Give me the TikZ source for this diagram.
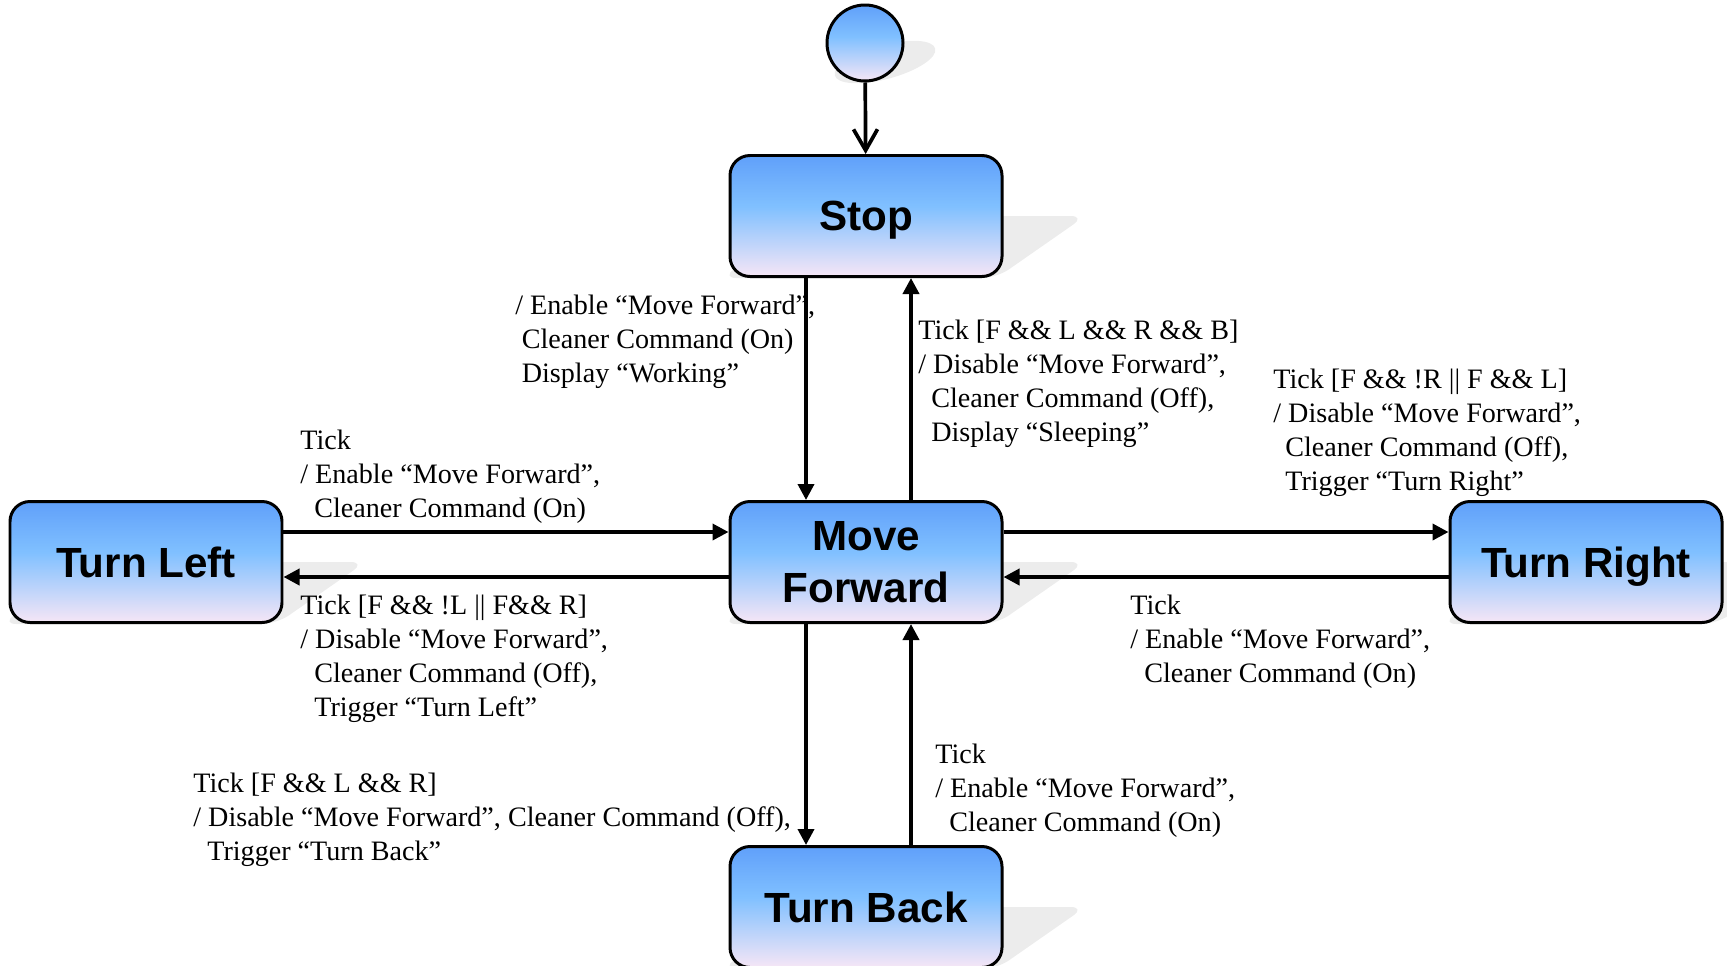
\documentclass[tikz,border=0pt]{standalone}
\usepackage{fontspec}
\setmainfont{Liberation Serif}
\setsansfont{Liberation Sans}
\usetikzlibrary{arrows.meta,calc,backgrounds,positioning}

\definecolor{sttop}{RGB}{96,160,250}
\definecolor{stmid}{RGB}{128,192,255}
\definecolor{stbot}{RGB}{246,230,246}
\definecolor{shadowc}{RGB}{236,236,236}
\pgfdeclareverticalshading{statefill}{100bp}{color(0bp)=(stbot); color(25bp)=(stbot); color(54bp)=(stmid); color(75bp)=(sttop); color(100bp)=(sttop)}

\tikzset{
  state/.style={draw,line width=1.7pt,rounded corners=4mm,shading=statefill,
    minimum width=54.4mm,minimum height=24.2mm,align=center,inner sep=0pt,text depth=0pt,
    font=\sffamily\bfseries\fontsize{24}{29.5}\selectfont},
  startdot/.style={draw,circle,line width=1.7pt,shading=statefill,minimum size=15.2mm,inner sep=0pt},
  lbl/.style={anchor=north west,align=left,inner sep=0pt,font=\fontsize{16}{19.3}\selectfont},
  flow/.style={line width=2.1pt,-{Triangle[length=3.2mm,width=3.2mm]}},
  startflow/.style={line width=2.1pt,-{Straight Barb[length=4.2mm,width=4.8mm,line width=2.1pt]}},
}
% shadow of a state box, thrown to the right
\newcommand{\dropshadow}[1]{%
  \fill[shadowc,rounded corners=3mm] ($(#1.south west)+(-7,0)$) -- ($(#1.south east)+(-7,0)$)
    -- ($(#1.east)+(82,0)$) -- ($(#1.west)+(82,0)$) -- cycle;}
\newcommand{\ind}[1][2.8mm]{\hspace*{#1}}

\begin{document}
\begin{tikzpicture}[x=0.2mm,y=-0.2mm]
\useasboundingbox (0,0) rectangle (1727,965);

% states
\node[startdot] (init) at (865,43) {};
\node[state] (stop) at (866,216) {Stop};
\node[state] (mf) at (866,562) {Move\\Forward};
\node[state] (tl) at (146,562) {Turn Left};
\node[state] (tr) at (1586,562) {Turn Right};
\node[state] (tb) at (866,907) {Turn Back};

\begin{scope}[on background layer]
\fill[shadowc] ($(init.center)+(20,19)$) ellipse [x radius=52,y radius=17,rotate=15];
\dropshadow{stop}
\dropshadow{mf}
\dropshadow{tl}
\dropshadow{tr}
\dropshadow{tb}
\end{scope}

% transition labels
\node[lbl] (lstopmf) at (515,295) {/ Enable “Move Forward”,\\\ind[1.3mm]Cleaner Command (On)\\\ind[1.3mm]Display “Working”};
\node[lbl] (lmfstop) at (918,320) {Tick [F \&\& L \&\& R \&\& B]\\/ Disable “Move Forward”,\\\ind[2.6mm]Cleaner Command (Off),\\\ind[2.6mm]Display “Sleeping”};
\node[lbl] (lmftr) at (1273,369) {Tick [F \&\& !R || F \&\& L]\\/ Disable “Move Forward”,\\\ind[2.4mm]Cleaner Command (Off),\\\ind[2.4mm]Trigger “Turn Right”};
\node[lbl] (ltlmf) at (300,430) {Tick\\/ Enable “Move Forward”,\\\ind Cleaner Command (On)};
\node[lbl] (lmftl) at (300,595) {Tick [F \&\& !L || F\&\& R]\\/ Disable “Move Forward”,\\\ind Cleaner Command (Off),\\\ind Trigger “Turn Left”};
\node[lbl] (ltrmf) at (1130,595) {Tick\\/ Enable “Move Forward”,\\\ind Cleaner Command (On)};
\node[lbl] (lmftb) at (193,773) {Tick [F \&\& L \&\& R]\\/ Disable “Move Forward”, Cleaner Command (Off),\\\ind Trigger “Turn Back”};
\node[lbl] (ltbmf) at (935,744) {Tick\\/ Enable “Move Forward”,\\\ind Cleaner Command (On)};

% transitions
\draw[startflow] (init) -- (stop);
\draw[flow] ($(stop.south)+(-60,0)$) -- ($(mf.north)+(-60,0)$);
\draw[flow] ($(mf.north)+(45,0)$) -- ($(stop.south)+(45,0)$);
\draw[flow] ($(tl.east)+(0,-30)$) -- ($(mf.west)+(0,-30)$);
\draw[flow] ($(mf.west)+(0,15)$) -- ($(tl.east)+(0,15)$);
\draw[flow] ($(mf.east)+(0,-30)$) -- ($(tr.west)+(0,-30)$);
\draw[flow] ($(tr.west)+(0,15)$) -- ($(mf.east)+(0,15)$);
\draw[flow] ($(mf.south)+(-60,0)$) -- ($(tb.north)+(-60,0)$);
\draw[flow] ($(tb.north)+(45,0)$) -- ($(mf.south)+(45,0)$);
\end{tikzpicture}
\end{document}
